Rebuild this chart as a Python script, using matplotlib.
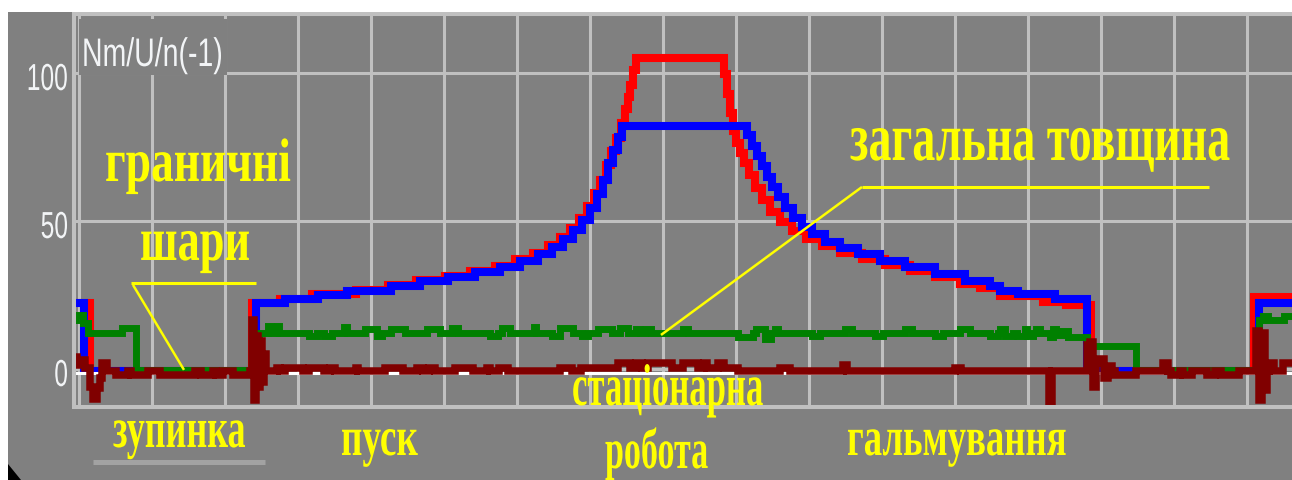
import matplotlib
matplotlib.use("Agg")
import matplotlib.pyplot as plt
from matplotlib.patheffects import AbstractPathEffect
from matplotlib.transforms import Affine2D, ScaledTranslation
from matplotlib.patches import Rectangle, Polygon
from matplotlib.lines import Line2D
from matplotlib.ticker import MultipleLocator

# ---------------------------------------------------------------- data
# time axis in samples; values in the recorder's units (Nm / U / n)
BLUE_X = [-6, 5, 177, 206, 239, 268, 312, 341, 369, 396, 421, 441, 459, 473, 484,
          494, 503, 511, 518, 524, 529, 534, 539, 543, 668, 673, 678, 683, 688, 693,
          699, 706, 714, 723, 733, 746, 761, 779, 801, 826, 856, 886, 911, 921, 939,
          976, 1008, 1180, 1215]
BLUE_V = [22.3, -0.7, 22.3, 23.6, 25.0, 26.5, 28.0, 29.7, 31.0, 32.6, 34.5, 36.5, 38.8,
          41.2, 43.8, 47.0, 50.5, 54.5, 59.0, 64.0, 69.5, 74.0, 78.5, 82.1, 79.0, 75.5,
          72.0, 68.5, 65.0, 61.5, 58.0, 54.5, 51.0, 48.0, 45.5, 43.0, 40.9, 38.8, 36.6,
          34.4, 32.0, 29.8, 28.0, 26.5, 25.3, 23.6, -0.7, 22.3, 22.3]

RED_X = [-6, 11, 173, 201, 233, 277, 309, 337, 366, 391, 416, 436, 454, 469, 481, 491,
         500, 508, 515, 521, 527, 532, 537, 542, 546, 549, 551, 554, 557, 645, 648, 651,
         654, 657, 661, 665, 670, 676, 683, 691, 701, 713, 727, 743, 761, 783, 806, 831,
         856, 881, 901, 921, 964, 987, 1012, 1175, 1215]
RED_V = [22.3, -0.7, 22.3, 23.8, 25.4, 26.8, 28.3, 30.0, 31.3, 33.0, 34.8, 37.0, 39.3,
         41.8, 44.5, 47.5, 51.0, 55.0, 59.5, 64.0, 69.0, 73.5, 78.0, 83.0, 88.0, 92.0,
         96.0, 101.0, 104.9, 99.5, 93.0, 86.5, 80.5, 76.5, 73.0, 69.5, 65.5, 61.0, 57.0,
         53.0, 49.5, 46.5, 44.0, 41.5, 39.3, 37.0, 35.0, 33.0, 31.0, 28.8, 27.2, 24.6,
         22.7, 21.6, -0.7, 24.3, 24.3]

GREEN_X = [-6, -3, 4, 9, 43, 57, 180, 189, 192, 198, 200, 230, 238, 245, 253, 265, 268,
           286, 298, 303, 312, 326, 348, 361, 373, 379, 411, 419, 423, 431, 455, 457,
           473, 481, 494, 503, 509, 519, 533, 541, 549, 557, 561, 566, 572, 604, 609,
           659, 674, 677, 686, 692, 696, 699, 733, 741, 766, 773, 796, 804, 826, 833,
           856, 864, 881, 891, 911, 919, 921, 926, 934, 938, 946, 948, 954, 957, 961,
           971, 974, 977, 983, 989, 1008, 1057, 1180, 1184, 1189, 1205, 1215]
GREEN_V = [16.4, 18.2, 15.4, 12.2, 13.7, -0.5, 12.2, 14.5, 12.2, 14.5, 12.2, 11.0, 12.2,
           11.0, 12.2, 14.2, 12.2, 13.6, 11.0, 12.2, 13.6, 12.2, 13.6, 12.2, 14.0, 12.2,
           11.0, 12.2, 13.8, 12.2, 14.3, 12.2, 11.0, 13.7, 12.2, 11.0, 12.2, 13.5, 12.2,
           13.7, 12.2, 13.6, 12.2, 13.6, 12.2, 13.6, 12.2, 10.8, 12.2, 13.6, 10.2, 12.2,
           13.6, 12.2, 11.0, 12.2, 13.6, 12.2, 11.2, 12.2, 13.6, 12.2, 11.2, 12.2, 13.6,
           12.2, 11.2, 12.2, 13.6, 11.0, 12.2, 11.0, 13.6, 11.0, 12.2, 13.6, 12.2, 10.8,
           13.6, 11.5, 12.8, 10.8, 7.9, -0.5, 16.4, 18.0, 16.4, 18.0, 18.0]

MAROON_X = [-6, -2, 1, 6, 11, 14, 18, 21, 23, 28, 37, 49, 52, 69, 81, 116, 122, 134,
            137, 144, 154, 171, 173, 175, 177, 179, 181, 183, 185, 187, 198, 201, 206,
            224, 230, 245, 251, 256, 277, 279, 306, 324, 338, 344, 350, 356, 376, 394,
            408, 411, 420, 429, 481, 493, 502, 539, 551, 557, 563, 569, 593, 604, 619,
            625, 628, 639, 645, 659, 701, 711, 764, 768, 876, 882, 970, 973, 1008, 1011,
            1014, 1017, 1021, 1025, 1029, 1033, 1036, 1057, 1084, 1089, 1092, 1101,
            1104, 1113, 1128, 1136, 1142, 1160, 1177, 1180, 1183, 1186, 1188, 1190,
            1195, 1204, 1215]
MAROON_V = [4.0, 1.5, 3.0, 0.5, -6.0, -10.0, -6.5, -3.0, 2.0, -0.7, -2.0, -0.7, -2.0,
            -0.7, -2.0, -0.7, -2.0, -0.7, -2.0, -0.7, -2.0, -0.7, 16.5, -10.5, 11.0,
            -6.0, 9.5, -4.5, 5.0, -0.7, 0.5, -0.7, 0.5, -0.7, 0.5, -0.7, 0.5, -0.7, 0.5,
            -0.7, 0.5, -0.7, 0.5, -0.7, 0.5, -0.7, 0.5, -0.7, 0.5, -0.7, 0.5, -0.7, 0.5,
            -0.7, 0.5, 2.0, 0.5, 2.0, 0.5, 2.0, 0.5, 2.0, 0.5, 2.0, 0.5, 2.0, 0.5, -0.7,
            0.5, -0.7, 1.2, -0.7, 0.5, -0.7, -13.0, -0.7, 8.0, 9.0, -6.0, 2.0, 3.5, -3.0,
            1.0, -0.7, -2.0, -0.7, 2.0, -0.7, -2.0, -0.7, -2.0, -0.7, -2.0, -0.7, -2.0,
            -0.7, 13.0, -10.5, 12.0, -7.0, -0.7, 2.0, -0.7, 2.0, 2.0]

WHITE_X = [-6, 1215]
WHITE_V = [-1.5, -1.5]

YTICKS = [0, 50, 100]
YTICK_LABELS = ["0", "50", "100"]
AXIS_TITLE = "Nm/U/n(-1)"

# ---------------------------------------------------------------- style
W, H, DPI = 1292, 480, 100
BG = "#808080"
GRID = "#c0c0c0"
YEL = "#ffff00"


class Stretch(AbstractPathEffect):
    """Render glyphs vertically stretched (tall, narrow display lettering)."""

    def __init__(self, sy):
        super().__init__()
        self.sy = sy

    def draw_path(self, renderer, gc, tpath, affine, rgbFace=None):
        renderer.draw_path(gc, tpath, Affine2D().scale(1.0, self.sy) + affine, rgbFace)


def fx(px):
    return px / W


def fy(py):
    return 1 - py / H


fig = plt.figure(figsize=(W / DPI, H / DPI), dpi=DPI, facecolor=BG)
# white margins along the top and left border
fig.add_artist(Rectangle((0, fy(12)), 1, 1 - fy(12), transform=fig.transFigure,
                         facecolor="white", edgecolor="none", zorder=5))
fig.add_artist(Rectangle((0, 0), fx(8), 1, transform=fig.transFigure,
                         facecolor="white", edgecolor="none", zorder=5))
fig.add_artist(Polygon([(fx(8), fy(464)), (fx(8), 0), (fx(21), 0)], closed=True,
                       transform=fig.transFigure, facecolor="black", edgecolor="none",
                       zorder=6))

ax = fig.add_axes([fx(74), fy(407), 1 - fx(74), fy(14) - fy(407)])
ax.set_facecolor(BG)
ax.set_xlim(-5, 1213)
ax.set_ylim(-12.84, 119.93)

for side in ("left", "top", "bottom"):
    ax.spines[side].set_color(GRID)
    ax.spines[side].set_linewidth(2.9)
ax.spines["right"].set_visible(False)

ax.xaxis.set_major_locator(MultipleLocator(73))
ax.set_yticks(YTICKS, labels=YTICK_LABELS)
ax.set_axisbelow(True)
ax.grid(True, color=GRID, lw=2.2)
ax.tick_params(axis="x", length=0, labelbottom=False)
ax.tick_params(axis="y", length=0, pad=4.3, labelcolor="#f2f4f6", labelsize=17.7)
shift = ScaledTranslation(0, -17 / DPI, fig.dpi_scale_trans)
for lab in ax.get_yticklabels():
    lab.set_family(["Liberation Sans", "DejaVu Sans"])
    lab.set_verticalalignment("baseline")
    lab.set_path_effects([Stretch(1.53)])
    lab.set_transform(lab.get_transform() + shift)

common = dict(drawstyle="steps-post", solid_joinstyle="miter", solid_capstyle="butt")
ax.plot(RED_X, RED_V, color="#ff0000", lw=5.8, zorder=2.0, **common)
ax.plot(BLUE_X, BLUE_V, color="#0000ff", lw=5.8, zorder=2.1, **common)
ax.plot(GREEN_X, GREEN_V, color="#008000", lw=5.0, zorder=2.2, **common)
ax.plot(WHITE_X, WHITE_V, color="white", lw=2.2, zorder=2.3, **common)
ax.plot(MAROON_X, MAROON_V, color="#800000", lw=5.4, zorder=2.4, **common)

# leader lines for the annotations
lead = dict(color=YEL, zorder=4, solid_capstyle="butt")
ax.plot([52, 177], [28.9, 28.9], lw=2.2, **lead)
ax.plot([54, 105], [28.4, -0.3], lw=1.8, **lead)
ax.plot([783, 1130], [61.5, 61.5], lw=2.2, **lead)
ax.plot([783, 582], [61.5, 11.5], lw=1.8, **lead)

# quantity label in the upper-left corner, on its own backing box
fig.add_artist(Rectangle((fx(79), fy(75)), fx(227) - fx(79), fy(19) - fy(75),
                         transform=fig.transFigure, facecolor=BG, edgecolor="none",
                         zorder=1))
fig.text(fx(82), fy(66), AXIS_TITLE, color="#f2f4f6", fontsize=20.5,
         family=["Liberation Sans", "DejaVu Sans"], ha="left", va="baseline",
         path_effects=[Stretch(1.40)], zorder=3)

# phase annotations: (text, left px, baseline px, size pt, vertical stretch)
notes = [
    ("граничні", 105, 181, 32.8, 1.35),
    ("шари", 140, 260, 32, 1.39),
    ("загальна товщина", 850, 160, 33.1, 1.48),
    ("стаціонарна", 572, 405, 25.0, 1.70),
    ("робота", 605, 468, 24.5, 1.67),
    ("пуск", 341, 455, 26.8, 1.48),
    ("гальмування", 847, 455, 26.5, 1.49),
    ("зупинка", 113, 447, 26, 1.57),
]
for s, x0, y0, size, sy in notes:
    fig.text(fx(x0), fy(y0), s, color=YEL, fontsize=size, fontweight="bold",
             family=["Liberation Serif", "DejaVu Serif"], ha="left", va="baseline",
             path_effects=[Stretch(sy)], zorder=7)

fig.add_artist(Line2D([fx(93), fx(265)], [fy(461.5), fy(461.5)], transform=fig.transFigure,
                      color="#a2a2a2", lw=3.6, solid_capstyle="butt", zorder=2))

fig.savefig("out.png", dpi=DPI, facecolor=fig.get_facecolor())
